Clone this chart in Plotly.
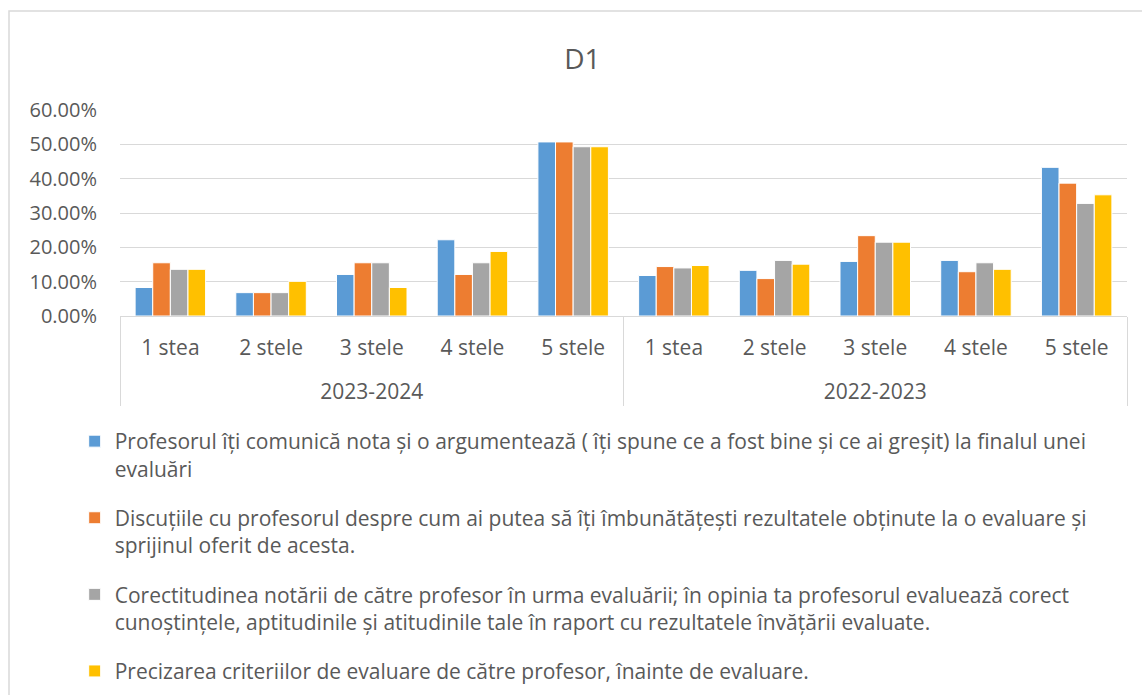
import plotly.graph_objects as go

years = ["2023-2024"] * 5 + ["2022-2023"] * 5
stars = ["1 stea", "2 stele", "3 stele", "4 stele", "5 stele"] * 2

series_names = [
    "Profesorul îți comunică nota și o argumentează ( îți spune ce a fost bine și ce ai greșit) la finalul unei<br>evaluări",
    "Discuțiile cu profesorul despre cum ai putea să îți îmbunătățești rezultatele obținute la o evaluare și<br>sprijinul oferit de acesta.",
    "Corectitudinea notării de către profesor în urma evaluării; în opinia ta profesorul evaluează corect<br>cunoștințele, aptitudinile și atitudinile tale în raport cu rezultatele învățării evaluate.",
    "Precizarea criteriilor de evaluare de către profesor, înainte de evaluare.",
]

blue_vals = [0.083, 0.068, 0.121, 0.222, 0.507, 0.118, 0.133, 0.159, 0.162, 0.433]
orange_vals = [0.155, 0.068, 0.155, 0.121, 0.507, 0.144, 0.109, 0.234, 0.129, 0.387]
gray_vals = [0.136, 0.068, 0.155, 0.155, 0.493, 0.140, 0.162, 0.215, 0.155, 0.328]
yellow_vals = [0.136, 0.101, 0.083, 0.188, 0.493, 0.147, 0.151, 0.215, 0.136, 0.353]

colors = ["#5B9BD5", "#ED7D31", "#A5A5A5", "#FFC000"]
all_vals = [blue_vals, orange_vals, gray_vals, yellow_vals]

FONT = "Open Sans, Liberation Sans, sans-serif"
TXT = "#595959"

# inner labels get an empty trailing line so the year row sits lower, as in the reference
inner_labels = [s + "<br> " for s in stars]

fig = go.Figure()
for i, (name, vals, col) in enumerate(zip(series_names, all_vals, colors)):
    fig.add_trace(go.Bar(
        x=[years, inner_labels], y=vals, name=name,
        marker=dict(color=col, line=dict(color="white", width=1)),
        legendgroup=f"g{i}",
    ))

fig.update_layout(
    width=1142, height=695,
    paper_bgcolor="white", plot_bgcolor="white",
    margin=dict(l=120, r=15, t=110, b=379, autoexpand=False),
    barmode="group", bargap=0.3, bargroupgap=0.0,
    title=dict(text="D1", x=0.51, xanchor="center", y=0.915, yanchor="middle",
               font=dict(family=FONT, size=28, color=TXT)),
    font=dict(family=FONT, color=TXT),
    legend=dict(
        x=-0.045, xanchor="left", yref="container", y=1 - 421 / 695, yanchor="top",
        font=dict(family=FONT, size=21, color=TXT),
        tracegroupgap=19, valign="top", itemwidth=30,
        bgcolor="rgba(0,0,0,0)",
    ),
    xaxis=dict(
        type="multicategory", showline=True, linecolor="#D9D9D9", linewidth=1,
        showgrid=False, ticks="", showdividers=True, dividercolor="#D9D9D9",
        dividerwidth=1, ticklabelstandoff=13, automargin=False,
        tickfont=dict(family=FONT, size=21, color=TXT),
    ),
    yaxis=dict(
        range=[0, 0.6], dtick=0.1, tickformat=".2%", showgrid=True,
        gridcolor="#D9D9D9", gridwidth=1, zeroline=False, showline=False,
        ticklabelstandoff=22, automargin=False,
        tickfont=dict(family=FONT, size=20, color=TXT),
    ),
    shapes=[dict(type="rect", xref="paper", yref="paper",
                 x0=(9 - 120) / 1007, x1=(1200 - 120) / 1007,
                 y0=(316 - 760) / 206, y1=(316 - 11) / 206,
                 line=dict(color="#D9D9D9", width=1.5), fillcolor="rgba(0,0,0,0)",
                 layer="below")],
)

fig.write_html("out.html", config={"displayModeBar": False},
               post_script="document.body.style.margin='0';")
